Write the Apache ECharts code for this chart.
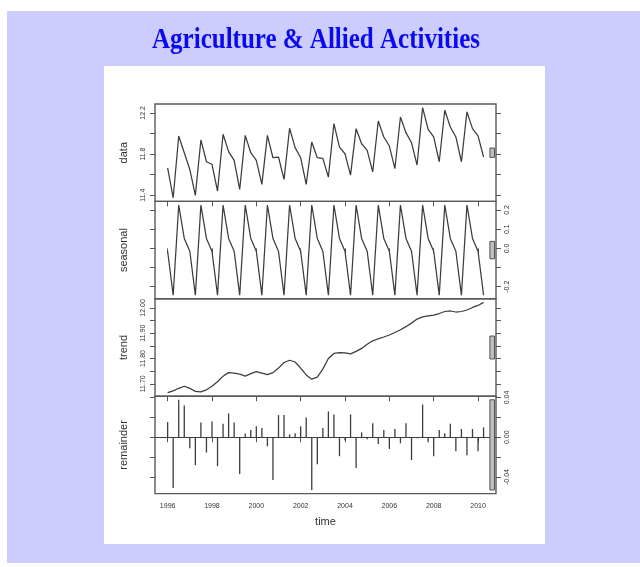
<!DOCTYPE html>
<html><head><meta charset="utf-8">
<script src="https://cdn.jsdelivr.net/npm/echarts@6/dist/echarts.min.js"></script>
<style>html,body{margin:0;padding:0;background:#fff}#c{width:640px;height:567px}</style>
</head><body><div id="c"></div>
<script>
// quarterly series, R ts(start = 1996, frequency = 4)
const START_YEAR = 1996;
const FREQUENCY = 4;

const dataValues = [11.666, 11.374, 11.976, 11.813, 11.650, 11.397, 11.937, 11.725, 11.700, 11.439, 11.992, 11.823,
  11.738, 11.455, 11.982, 11.813, 11.738, 11.504, 11.982, 11.764, 11.771, 11.553, 12.051, 11.862,
  11.764, 11.504, 11.917, 11.764, 11.758, 11.575, 12.096, 11.868, 11.803, 11.595, 12.047, 11.900,
  11.836, 11.627, 12.122, 11.966, 11.878, 11.657, 12.161, 12.008, 11.910, 11.693, 12.252, 12.041,
  11.966, 11.725, 12.226, 12.063, 11.966, 11.725, 12.210, 12.047, 11.976, 11.771];

const seasonalValues = [-0.015, -0.244, 0.226, 0.052, -0.015, -0.244, 0.226, 0.052, -0.015, -0.244, 0.226, 0.052,
  -0.015, -0.244, 0.226, 0.052, -0.015, -0.244, 0.226, 0.052, -0.015, -0.244, 0.226, 0.052,
  -0.015, -0.244, 0.226, 0.052, -0.015, -0.244, 0.226, 0.052, -0.015, -0.244, 0.226, 0.052,
  -0.015, -0.244, 0.226, 0.052, -0.015, -0.244, 0.226, 0.052, -0.015, -0.244, 0.226, 0.052,
  -0.015, -0.244, 0.226, 0.052, -0.015, -0.244, 0.226, 0.052, -0.015, -0.244];

const trendValues = [11.665, 11.672, 11.682, 11.690, 11.682, 11.670, 11.668, 11.676, 11.690, 11.708, 11.730, 11.744,
  11.742, 11.738, 11.730, 11.740, 11.748, 11.742, 11.736, 11.744, 11.762, 11.784, 11.793, 11.786,
  11.762, 11.735, 11.718, 11.726, 11.758, 11.800, 11.820, 11.823, 11.822, 11.818, 11.828, 11.840,
  11.856, 11.870, 11.878, 11.885, 11.893, 11.903, 11.914, 11.926, 11.940, 11.956, 11.965, 11.969,
  11.972, 11.978, 11.986, 11.988, 11.984, 11.986, 11.992, 12.002, 12.010, 12.022];

const remainderValues = [0.0153, -0.051, 0.0377, 0.032, -0.011, -0.028, 0.015, -0.0153, 0.016, -0.029, 0.0137, 0.024,
  0.015, -0.037, 0.0037, 0.0073, 0.011, 0.0093, -0.009, -0.043, 0.0223, 0.0223, 0.003, 0.004,
  0.011, 0.020, -0.053, -0.027, 0.0093, 0.026, 0.023, -0.019, -0.003, 0.023, -0.031, 0.005,
  -0.002, 0.014, -0.0067, 0.0073, -0.0117, 0.0083, -0.006, 0.014, -0.023, -0.001, 0.033, -0.005,
  -0.019, 0.0073, 0.004, 0.0137, -0.014, 0.0083, -0.018, 0.0083, -0.014, 0.010];

const panelNames = ['data', 'seasonal', 'trend', 'remainder'];
const xTickValues = [1996, 1998, 2000, 2002, 2004, 2006, 2008, 2010];
const yTickValues = [
  [11.4, 11.6, 11.8, 12.0, 12.2],
  [-0.2, -0.1, 0.0, 0.1, 0.2],
  [11.70, 11.75, 11.80, 11.85, 11.90, 11.95, 12.00],
  [-0.04, -0.02, 0.00, 0.02, 0.04]
];
const yLabelValues = [
  [11.4, 11.8, 12.2],
  [-0.2, 0.0, 0.1, 0.2],
  [11.70, 11.80, 11.90, 12.00],
  [-0.04, 0.00, 0.04]
];
const yLabelDecimals = [1, 1, 2, 2];
const titleText = 'Agriculture & Allied Activities';
const xAxisTitle = 'time';

// ---------- build ----------
const series4 = [dataValues, seasonalValues, trendValues, remainderValues];
const time = dataValues.map((_, i) => START_YEAR + i / FREQUENCY);
function padRange(arr) {
  const mn = Math.min(...arr), mx = Math.max(...arr), d = mx - mn;
  return [mn - 0.04 * d, mx + 0.04 * d];
}
const ranges = series4.map(padRange);
const remRange = Math.max(...remainderValues) - Math.min(...remainderValues);
const X_MIN = 1995.43, X_MAX = 2010.81, BAR_X = 2010.64;

const G_LEFT = 155, G_WIDTH = 341, G_TOP = 104, G_H = 97.4;
const grids = [], xAxes = [], yAxes = [], series = [];
const FONT = '"Liberation Sans", Arial, sans-serif';
const TICK_STYLE = { color: '#555', width: 1 };
for (let i = 0; i < 4; i++) {
  grids.push({ left: G_LEFT, top: G_TOP + i * G_H, width: G_WIDTH, height: G_H,
    show: true, borderColor: '#5a5a5a', borderWidth: 1.4, backgroundColor: 'transparent' });
  xAxes.push({ type: 'value', gridIndex: i, min: X_MIN, max: X_MAX, position: 'bottom',
    axisLine: { show: false }, splitLine: { show: false },
    axisTick: { show: true, length: 5, inside: false, customValues: xTickValues, lineStyle: TICK_STYLE },
    axisLabel: { show: i === 3, customValues: xTickValues, margin: 9, fontSize: 7, color: '#333', fontFamily: FONT,
      formatter: v => String(Math.round(v)) },
    name: i === 3 ? xAxisTitle : '', nameLocation: 'middle', nameGap: 23,
    nameTextStyle: { fontSize: 11, color: '#333', fontFamily: FONT } });
  const dec = yLabelDecimals[i];
  const labelSide = (i % 2 === 0) ? 'left' : 'right';
  const otherSide = (i % 2 === 0) ? 'right' : 'left';
  // labelled axis
  yAxes.push({ type: 'value', gridIndex: i, min: ranges[i][0], max: ranges[i][1], position: labelSide,
    axisLine: { show: false }, splitLine: { show: false },
    axisTick: { show: true, length: 5, inside: false, customValues: yTickValues[i], lineStyle: TICK_STYLE },
    axisLabel: { show: true, customValues: yLabelValues[i], rotate: 90, margin: 8, fontSize: 7, color: '#333', fontFamily: FONT,
      formatter: v => Number(v).toFixed(dec) } });
  // opposite axis: ticks only
  yAxes.push({ type: 'value', gridIndex: i, min: ranges[i][0], max: ranges[i][1], position: otherSide,
    axisLine: { show: false }, splitLine: { show: false },
    axisTick: { show: true, length: 5, inside: false, customValues: yTickValues[i], lineStyle: TICK_STYLE },
    axisLabel: { show: false } });
  const yIdx = 2 * i;
  const pts = series4[i].map((v, k) => [time[k], v]);
  if (i < 3) {
    series.push({ type: 'line', xAxisIndex: i, yAxisIndex: yIdx, data: pts, showSymbol: false, symbol: 'none',
      lineStyle: { color: '#3c3c3c', width: 1.25 }, animation: false, silent: true });
  } else {
    series.push({ type: 'bar', xAxisIndex: i, yAxisIndex: yIdx, data: pts, barWidth: 1.3,
      itemStyle: { color: '#3c3c3c' }, animation: false, silent: true,
      markLine: { silent: true, symbol: 'none', label: { show: false },
        lineStyle: { color: '#3c3c3c', width: 1, type: 'solid' }, data: [{ yAxis: 0 }] } });
  }
  const center = (ranges[i][0] + ranges[i][1]) / 2;
  series.push({ type: 'custom', xAxisIndex: i, yAxisIndex: yIdx, data: [[BAR_X, center, remRange]],
    animation: false, silent: true, z: 5,
    renderItem: (params, api) => {
      const x = api.value(0), c = api.value(1), h = api.value(2);
      const p1 = api.coord([x, c + h / 2]), p2 = api.coord([x, c - h / 2]);
      return { type: 'rect', shape: { x: p1[0] - 2.3, y: p1[1], width: 4.6, height: p2[1] - p1[1] },
        style: { fill: '#bfbfbf', stroke: '#505050', lineWidth: 1 } };
    } });
}

const graphics = [
  { type: 'rect', z: -10, shape: { x: 7, y: 11, width: 633, height: 552 }, style: { fill: '#ccccff' }, silent: true },
  { type: 'rect', z: -9, shape: { x: 104, y: 66, width: 441, height: 478 }, style: { fill: '#ffffff' }, silent: true },
  { type: 'text', z: 10, x: 316, y: 40, scaleY: 1.2,
    style: { text: titleText, font: 'bold 25px "Liberation Serif", "Times New Roman", serif', fill: '#0a0aee',
      align: 'center', verticalAlign: 'middle', textAlign: 'center', textVerticalAlign: 'middle' } }
];
panelNames.forEach((n, i) => {
  graphics.push({ type: 'text', z: 10, x: 124, y: G_TOP + (i + 0.5) * G_H, rotation: Math.PI / 2,
    style: { text: n, font: '11px ' + FONT, fill: '#333',
      align: 'center', verticalAlign: 'middle', textAlign: 'center', textVerticalAlign: 'middle' } });
});

const chart = echarts.init(document.getElementById('c'), null, { renderer: 'canvas' });
chart.setOption({
  backgroundColor: '#ffffff',
  animation: false,
  grid: grids, xAxis: xAxes, yAxis: yAxes, series: series,
  graphic: { elements: graphics }
});
</script></body></html>
